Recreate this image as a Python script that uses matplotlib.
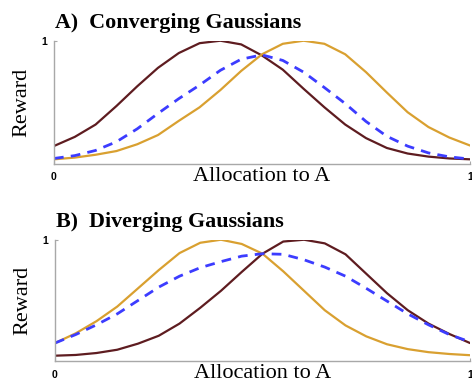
import matplotlib
matplotlib.use("Agg")
import matplotlib.pyplot as plt

# allocation grid shared by every curve
alloc = [0.00, 0.05, 0.10, 0.15, 0.20, 0.25, 0.30, 0.35, 0.40, 0.45, 0.50,
         0.55, 0.60, 0.65, 0.70, 0.75, 0.80, 0.85, 0.90, 0.95, 1.00]

# A) converging
conv_brown = [0.146, 0.22, 0.32, 0.47, 0.63, 0.78, 0.90, 0.98, 1.00, 0.97, 0.88,
              0.765, 0.61, 0.46, 0.32, 0.21, 0.13, 0.085, 0.06, 0.045, 0.038]
conv_gold = [0.038, 0.052, 0.075, 0.105, 0.16, 0.235, 0.35, 0.46, 0.60, 0.755, 0.89,
             0.975, 1.00, 0.975, 0.89, 0.745, 0.58, 0.42, 0.30, 0.215, 0.15]
conv_blue = [0.045, 0.068, 0.11, 0.18, 0.285, 0.41, 0.53, 0.64, 0.76, 0.85, 0.885,
             0.84, 0.745, 0.62, 0.49, 0.345, 0.225, 0.145, 0.09, 0.058, 0.04]

# B) diverging
div_gold = [0.15, 0.23, 0.33, 0.45, 0.60, 0.75, 0.89, 0.975, 1.00, 0.965, 0.885,
            0.74, 0.58, 0.42, 0.295, 0.205, 0.14, 0.10, 0.075, 0.06, 0.05]
div_brown = [0.046, 0.052, 0.068, 0.095, 0.145, 0.21, 0.31, 0.44, 0.58, 0.735, 0.885,
             0.985, 1.00, 0.97, 0.88, 0.72, 0.56, 0.42, 0.31, 0.225, 0.15]
div_blue = [0.15, 0.22, 0.30, 0.39, 0.50, 0.61, 0.70, 0.77, 0.82, 0.865, 0.885,
            0.88, 0.835, 0.775, 0.70, 0.60, 0.495, 0.39, 0.30, 0.22, 0.16]

titles = ["A)  Converging Gaussians", "B)  Diverging Gaussians"]
panels = [(conv_brown, conv_gold, conv_blue), (div_brown, div_gold, div_blue)]

BROWN = "#5e1c20"
GOLD = "#d9a030"
BLUE = "#3c3cff"
SERIF = ["Liberation Serif", "DejaVu Serif"]

fig = plt.figure(figsize=(4.72, 3.83), dpi=100)
boxes = [[0.1144, 0.5718, 0.8814, 0.3219], [0.1165, 0.0567, 0.8793, 0.3174]]

for box, title, (brown, gold, blue) in zip(boxes, titles, panels):
    ax = fig.add_axes(box)
    ax.plot(alloc, brown, color=BROWN, lw=1.6, solid_capstyle="round")
    ax.plot(alloc, gold, color=GOLD, lw=1.6, solid_capstyle="round")
    ax.plot(alloc, blue, color=BLUE, lw=2.0, dashes=(3.5, 2.6))

    ax.set_xlim(0, 1)
    ax.set_ylim(0, 1)
    for side in ("top", "right"):
        ax.spines[side].set_visible(False)
    for side in ("left", "bottom"):
        ax.spines[side].set_color("#a8a8a8")
        ax.spines[side].set_linewidth(1.0)

    ax.set_xticks([0, 1])
    ax.set_xticklabels(["0", "1"])
    ax.set_yticks([1])
    ax.set_yticklabels(["1"])
    ax.tick_params(axis="both", direction="in", length=2, width=0.8,
                   color="#a8a8a8", labelsize=7.5)
    ax.tick_params(axis="x", pad=6)
    ax.tick_params(axis="y", pad=5)
    for lab in ax.get_xticklabels() + ax.get_yticklabels():
        lab.set_family("Liberation Sans")
        lab.set_fontweight("bold")

    ax.set_xlabel("Allocation to A", family=SERIF, fontsize=16, va="center")
    ax.xaxis.set_label_coords(0.5, -0.10)
    ax.set_ylabel("Reward", family=SERIF, fontsize=16, va="center")
    ax.yaxis.set_label_coords(-0.077, 0.5)

    ax.text(0.002, 1.145, title, transform=ax.transAxes, family=SERIF,
            fontweight="bold", fontsize=15.8, ha="left", va="center")

fig.savefig("out.png", dpi=100)
